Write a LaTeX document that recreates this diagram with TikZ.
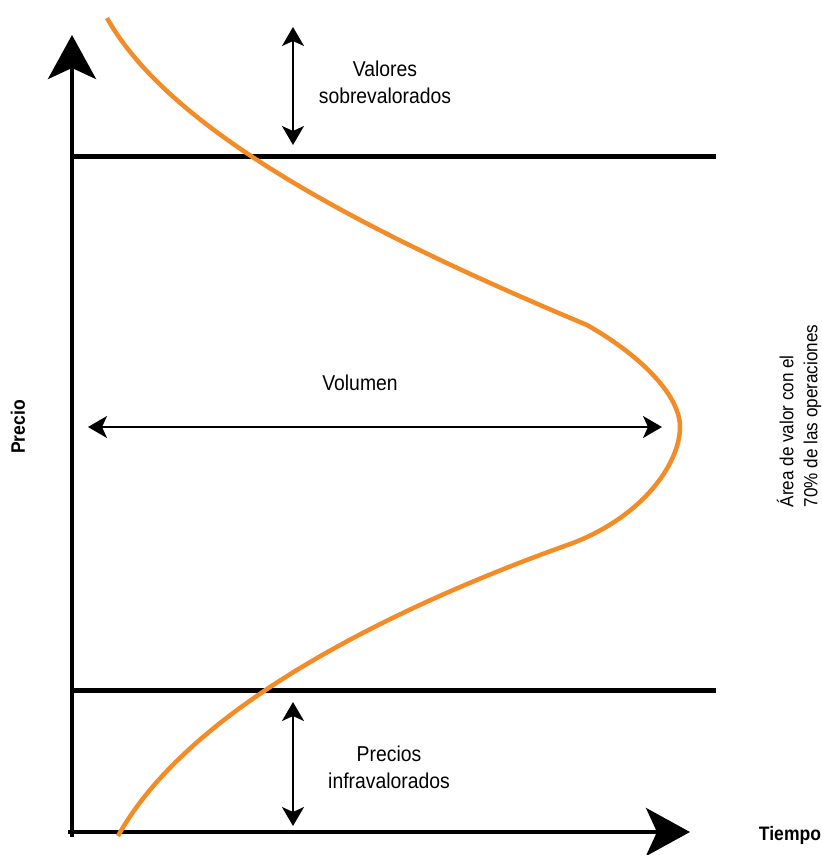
\documentclass[tikz,border=0pt]{standalone}
\usepackage{fontspec}
\setmainfont{Liberation Sans}[FakeStretch=0.9]
\usepackage{tikz}
\usetikzlibrary{arrows.meta}
\definecolor{curva}{RGB}{243,139,38}

\begin{document}
\begin{tikzpicture}[x=1pt,y=-1pt,
  eje/.style={line width=4pt,-{Stealth[length=44pt,width=48pt,inset=11pt]}},
  doble/.style={line width=2pt,{Stealth[length=19pt,width=22pt,inset=5pt]}-{Stealth[length=19pt,width=22pt,inset=5pt]}},
  texto/.style={font=\fontsize{21.5}{27}\selectfont,align=center},
  titulo/.style={font=\bfseries\fontsize{19.5}{24}\selectfont}]
  \useasboundingbox (0,0) rectangle (822,855);
  \coordinate (O1) at (72,837); \coordinate (Y) at (72,35);
  \coordinate (O2) at (68,832); \coordinate (X) at (690,832);
  \coordinate (T1) at (72,156); \coordinate (T2) at (716,156);
  \coordinate (B1) at (72,690); \coordinate (B2) at (716,690);
  \draw[eje] (O1)--(Y); \draw[eje] (O2)--(X);
  \draw[line width=5pt] (T1)--(T2); \draw[line width=5pt] (B1)--(B2);
  \coordinate (S1) at (293,27); \coordinate (S2) at (293,145);
  \coordinate (V1) at (88,427); \coordinate (V2) at (662,427);
  \coordinate (I1) at (293,702); \coordinate (I2) at (293,826);
  \draw[doble] (S1)--(S2); \draw[doble] (V1)--(V2); \draw[doble] (I1)--(I2);
  \node[texto] (valores) at (385,82) {Valores\\sobrevalorados};
  \node[texto] (volumen) at (360,383) {Volumen};
  \node[texto] (precios) at (389,767) {Precios\\infravalorados};
  \node[titulo,rotate=90] (precio) at (18,427) {Precio};
  \node[titulo] (tiempo) at (790,835) {Tiempo};
  \node[font=\fontsize{19}{24}\selectfont,rotate=90,align=left] (area) at (799,416) {Área de valor con el\\70\% de las operaciones};
  \draw[curva,line width=4.5pt] (107,18) .. controls (170,130) and (360,230) .. (587,325) .. controls (640,355) and (680,395) .. (680,427) .. controls (680,462) and (645,515) .. (573,543) .. controls (440,590) and (198,692) .. (118,836);
\end{tikzpicture}
\end{document}
